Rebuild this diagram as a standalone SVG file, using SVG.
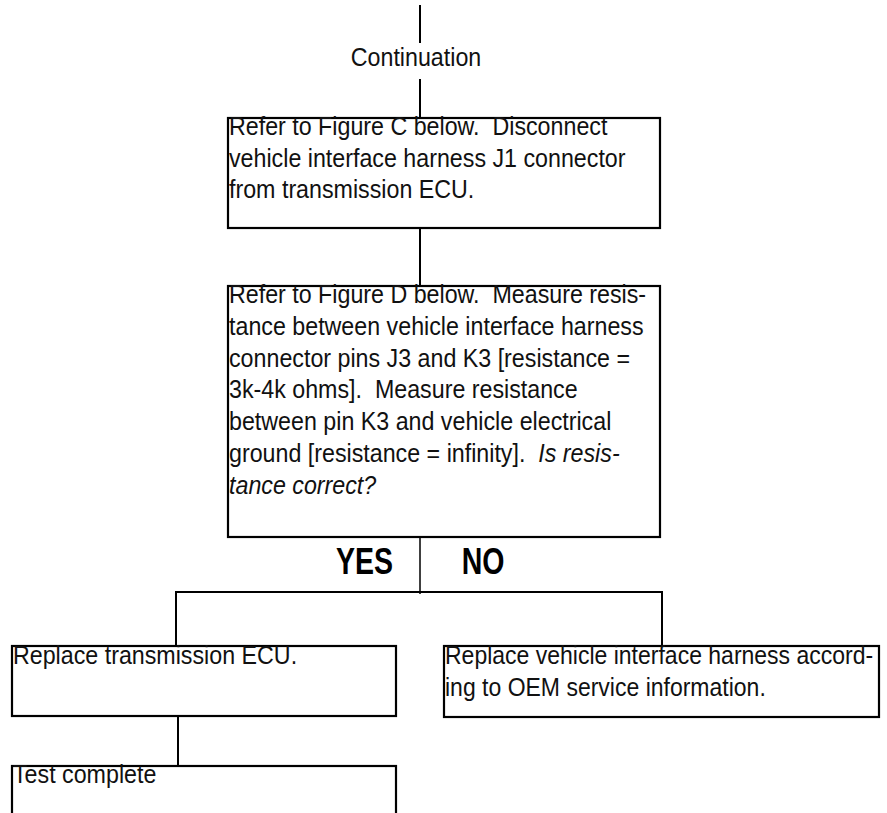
<svg xmlns="http://www.w3.org/2000/svg" width="887" height="813" viewBox="0 0 887 813">
<style>
  .box { fill: #ffffff; stroke: #000000; stroke-width: 2.2; }
  .wire { fill: none; stroke: #000000; stroke-width: 2; }
  .t { font-family: "Liberation Sans", Arial, sans-serif; font-size: 25px; fill: #111111; }
  .it { font-style: italic; }
  .yn { font-family: "Liberation Sans", Arial, sans-serif; font-weight: bold; font-size: 37px; fill: #000000; }
</style>
<rect width="887" height="813" fill="#ffffff"/>
<g id="connectors">
  <line class="wire" x1="420" y1="5" x2="420" y2="43"/>
  <line class="wire" x1="420" y1="79" x2="420" y2="118"/>
  <line class="wire" x1="420" y1="228" x2="420" y2="286"/>
  <line class="wire" x1="420" y1="537" x2="420" y2="594" style="stroke-width:1.5"/>
  <polyline class="wire" points="176,646 176,592 662,592 662,646"/>
  <line class="wire" x1="178" y1="716" x2="178" y2="766"/>
</g>
<g id="continuation">
  <text class="t" x="0" y="0" text-anchor="middle" transform="translate(416,66) scale(0.93,1)">Continuation</text>
</g>
<g id="step-disconnect">
  <rect class="box" x="228" y="118" width="432" height="110"/>
  <text class="t" xml:space="preserve" transform="translate(229,0) scale(0.93,1)"><tspan x="0" y="135">Refer to Figure C below.  Disconnect</tspan><tspan x="0" y="167">vehicle interface harness J1 connector</tspan><tspan x="0" y="198">from transmission ECU.</tspan></text>
</g>
<g id="step-measure">
  <rect class="box" x="228" y="286" width="432" height="251"/>
  <text class="t" xml:space="preserve" transform="translate(229,0) scale(0.93,1)"><tspan x="0" y="303">Refer to Figure D below.  Measure resis-</tspan><tspan x="0" y="335">tance between vehicle interface harness</tspan><tspan x="0" y="367">connector pins J3 and K3 [resistance =</tspan><tspan x="0" y="398">3k-4k ohms].  Measure resistance</tspan><tspan x="0" y="430">between pin K3 and vehicle electrical</tspan><tspan x="0" y="462">ground [resistance = infinity].  <tspan class="it">Is resis-</tspan></tspan><tspan x="0" y="494" class="it">tance correct?</tspan></text>
</g>
<g id="labels">
  <text class="yn" text-anchor="middle" transform="translate(364.5,574) scale(0.77,1)">YES</text>
  <text class="yn" text-anchor="middle" transform="translate(483,574) scale(0.77,1)">NO</text>
</g>
<g id="step-replace-ecu">
  <rect class="box" x="12" y="646" width="384" height="70"/>
  <text class="t" x="0" y="664" transform="translate(13,0) scale(0.93,1)">Replace transmission ECU.</text>
</g>
<g id="step-replace-harness">
  <rect class="box" x="444" y="646" width="435" height="71"/>
  <text class="t" transform="translate(445,0) scale(0.92,1)"><tspan x="0" y="664">Replace vehicle interface harness accord-</tspan><tspan x="0" y="696">ing to OEM service information.</tspan></text>
</g>
<g id="step-test-complete">
  <rect class="box" x="12" y="766" width="384" height="60"/>
  <text class="t" x="0" y="783" transform="translate(13,0) scale(0.93,1)">Test complete</text>
</g>
</svg>
